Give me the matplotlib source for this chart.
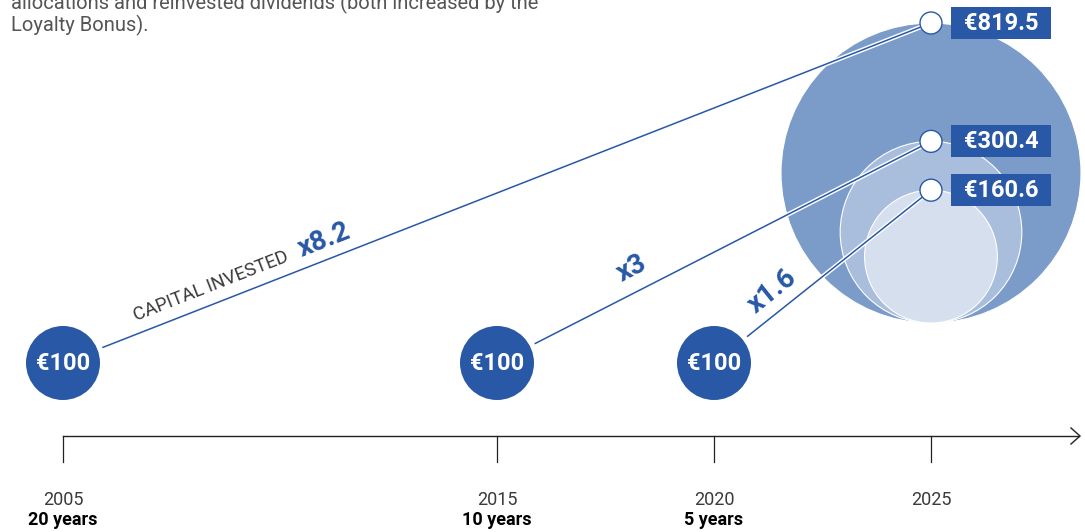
import numpy as np
import matplotlib.pyplot as plt
from matplotlib.patches import Ellipse, Rectangle
import matplotlib.patheffects as pe

plt.rcParams['font.family'] = ['Roboto', 'DejaVu Sans']

# data
years = [2005, 2015, 2020, 2025]
horizons = ['20 years', '10 years', '5 years', '']
start_years = [2005, 2015, 2020]
end_year = 2025
initial = 100
final_values = [819.5, 300.4, 160.6]
multipliers = ['x8.2', 'x3', 'x1.6']

DARK = '#2858a6'
FILLS = ['#7b9cc9', '#a9bddd', '#d5dfed']
GRAY = '#3a3a3a'

W, H = 1085, 532
ppy = 43.4                     # pixels per year
x0 = 2005 - 63 / ppy

fig = plt.figure(figsize=(W / 100, H / 100), dpi=100)
ax = fig.add_axes([0, 0, 1, 1])
ax.set_xlim(x0, x0 + W / ppy)
ax.set_ylim(0, H)
ax.axis('off')

def px(year):
    return (year - x0) * ppy

# timeline
y_axis = H - 436
ax.plot([years[0], x0 + 1079 / ppy], [y_axis, y_axis], color='#222222', lw=1, zorder=1)
ax.plot([x0 + 1071 / ppy, x0 + 1080 / ppy, x0 + 1071 / ppy],
        [y_axis + 8, y_axis, y_axis - 8], color='#222222', lw=1, zorder=1)
for yr, hz in zip(years, horizons):
    ax.plot([yr, yr], [y_axis, y_axis - 26], color='#222222', lw=0.9)
    ax.text(yr, H - 500, str(yr), ha='center', va='center', fontsize=13,
            color=GRAY)
    if hz:
        ax.text(yr, H - 520, hz, ha='center', va='center', fontsize=13,
                color='black', fontweight='bold')

# final value circles (area ~ value), bottom aligned
k = 150 / np.sqrt(max(final_values))
base = H - 323
tops = []
for v, c in zip(final_values, FILLS):
    r = k * np.sqrt(v)
    ax.add_patch(Ellipse((end_year, base + r), 2 * r / ppy, 2 * r, facecolor=c,
                         edgecolor='white', lw=0.8, zorder=2))
    tops.append(base + 2 * r)

# starting circles
y_start = H - 363
r0 = 37
for yr in start_years:
    ax.add_patch(Ellipse((yr, y_start), 2 * r0 / ppy, 2 * r0, facecolor=DARK,
                         edgecolor='none', zorder=3))
    ax.text(yr, y_start, '€%d' % initial, ha='center', va='center', fontsize=17,
            color='white', fontweight='bold', zorder=4)

# connecting lines, dots, labels
halo = [pe.withStroke(linewidth=3.2, foreground='white')]
offsets = [(0.276, 19), (0.271, 23), (0.204, 20)]
for yr, v, top, m, (t, off) in zip(start_years, final_values, tops, multipliers, offsets):
    sx, sy = px(yr), y_start
    ex, ey = px(end_year), top
    d = np.hypot(ex - sx, ey - sy)
    ux, uy = (ex - sx) / d, (ey - sy) / d
    bx, by = sx + ux * 43, sy + uy * 43
    ax.plot([x0 + bx / ppy, end_year], [by, ey], color=DARK, lw=1.1,
            path_effects=halo, zorder=5)
    ax.add_patch(Ellipse((end_year, ey), 22 / ppy, 22, facecolor='white',
                         edgecolor=DARK, lw=1, zorder=6))
    ang = np.degrees(np.arctan2(uy, ux))
    L = np.hypot(ex - bx, ey - by)
    lx, ly = bx + ux * L * t - uy * off, by + uy * L * t + ux * off
    ax.text(x0 + lx / ppy, ly, m, ha='center', va='center', rotation=ang,
            rotation_mode='anchor', fontsize=20, fontweight='bold', color=DARK, zorder=6)
    if m == multipliers[0]:
        t2, off2 = 0.138, 17.5
        cx, cy = bx + ux * L * t2 - uy * off2, by + uy * L * t2 + ux * off2
        ax.text(x0 + cx / ppy, cy, 'CAPITAL INVESTED', ha='center', va='center',
                rotation=ang, rotation_mode='anchor', fontsize=13.5, color=GRAY)
    # value box
    bxc = end_year + 70 / ppy
    ax.add_patch(Rectangle((bxc - 50 / ppy, ey - 16), 100 / ppy, 32, facecolor=DARK,
                           edgecolor='none', zorder=6))
    ax.text(bxc, ey, '€%.1f' % v, ha='center', va='center', fontsize=17,
            fontweight='bold', color='white', zorder=7)

# header text (partly cut off at top)
ax.text(x0 + 11 / ppy, H - 3, 'allocations and reinvested dividends (both increased by the',
        ha='left', va='center', fontsize=14.5, color='#555555')
ax.text(x0 + 11 / ppy, H - 25, 'Loyalty Bonus).', ha='left', va='center',
        fontsize=14.5, color='#555555')

fig.savefig('out.png', dpi=100)
